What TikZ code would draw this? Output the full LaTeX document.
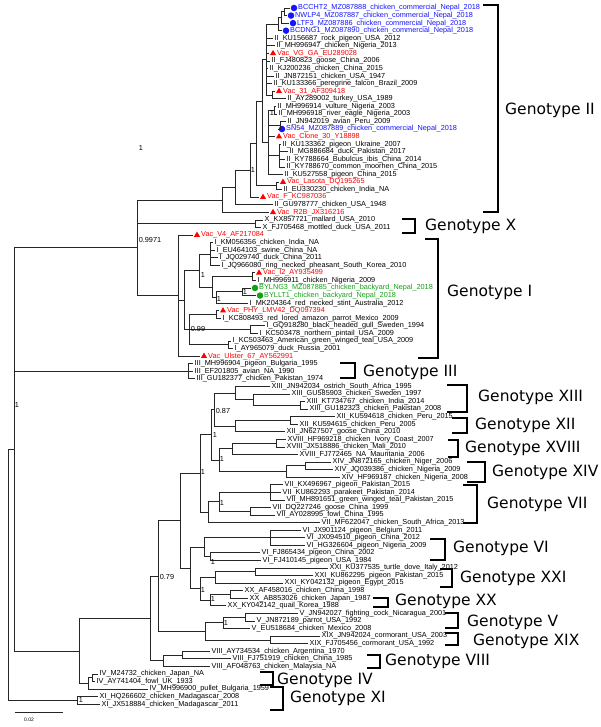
\documentclass[tikz,border=0pt]{standalone}
\usepackage{fontspec}
\setmainfont{Liberation Sans}
\newfontfamily\gtfont{DejaVu Sans}
\usetikzlibrary{shapes.geometric}
\definecolor{vred}{RGB}{255,0,0}
\definecolor{nblue}{RGB}{20,20,255}
\definecolor{bgreen}{RGB}{20,160,20}
\newcommand\TN[3]{\coordinate (#1) at (#2,{8+(#3-1)*7.567});}
\newcommand\LP[4]{\coordinate (#1) at (#2,{8+(#3-1)*7.567});\node[lab] (#1t) at ([xshift=1.5pt]#1) {#4};}
\newcommand\LV[4]{\coordinate (#1) at (#2,{8+(#3-1)*7.567});\node[tri] (#1m) at ([xshift=4pt]#1) {};\node[lab,text=vred] (#1t) at ([xshift=8pt]#1) {#4};}
\newcommand\LB[4]{\coordinate (#1) at (#2,{8+(#3-1)*7.567});\node[circ,fill=nblue] (#1m) at ([xshift=4pt]#1) {};\node[lab,text=nblue] (#1t) at ([xshift=8pt]#1) {#4};}
\newcommand\LG[4]{\coordinate (#1) at (#2,{8+(#3-1)*7.567});\node[circ,fill=bgreen] (#1m) at ([xshift=4pt]#1) {};\node[lab,text=bgreen] (#1t) at ([xshift=8pt]#1) {#4};}
\newcommand\TE[2]{\foreach \ch in {#2}{\draw[br] (#1) |- (\ch);}}
\begin{document}
\catcode`\_=12
\begin{tikzpicture}[x=1pt,y=-1pt,
  br/.style={line width=0.7pt,black!85},
  bk/.style={line width=1.4pt},
  lab/.style={anchor=west,inner sep=0pt,font=\fontsize{7.3}{8}\selectfont},
  sup/.style={inner sep=0pt,font=\fontsize{7.3}{8}\selectfont},
  gt/.style={anchor=west,inner sep=0pt,font=\gtfont\fontsize{15.5}{17}\selectfont},
  tri/.style={regular polygon,regular polygon sides=3,fill=vred,minimum size=7pt,inner sep=0pt},
  circ/.style={circle,minimum size=6.5pt,inner sep=0pt}]
\useasboundingbox (0,0) rectangle (600,727);
% leaves
\LB{L1}{290}{1}{BCCHT2_MZ087888_chicken_commercial_Nepal_2018}
\LB{L2}{287}{2}{NWLP4_MZ087887_chicken_commercial_Nepal_2018}
\LB{L3}{289}{3}{LTF3_MZ087886_chicken_commercial_Nepal_2018}
\LB{L4}{282}{4}{BCDNG1_MZ087890_chicken_commercial_Nepal_2018}
\LP{L5}{273}{5}{II_KU156687_rock_pigeon_USA_2012}
\LP{L6}{275}{6}{II_MH996947_chicken_Nigeria_2013}
\LV{L7}{269}{7}{Vac_VG_GA_EU289028}
\LP{L8}{270}{8}{II_FJ480823_goose_China_2006}
\LP{L9}{268}{9}{II_KJ200236_chicken_China_2015}
\LP{L10}{274}{10}{II_JN872151_chicken_USA_1947}
\LP{L11}{272}{11}{II_KU133366_peregrine_falcon_Brazil_2009}
\LV{L12}{275}{12}{Vac_31_AF309418}
\LP{L13}{286}{13}{II_AY289002_turkey_USA_1989}
\LP{L14}{276}{14}{II_MH996914_vulture_Nigeria_2003}
\LP{L15}{277}{15}{II_MH996918_river_eagle_Nigeria_2003}
\LP{L16}{286}{16}{II_JN942019_avian_Peru_2009}
\LB{L17}{278}{17}{SN54_MZ087889_chicken_commercial_Nepal_2018}
\LV{L18}{275}{18}{Vac_Clone_30_Y18898}
\LP{L19}{281}{19}{II_KU133362_pigeon_Ukraine_2007}
\LP{L20}{288}{20}{II_MG886684_duck_Pakistan_2017}
\LP{L21}{285}{21}{II_KY788664_Bubulcus_ibis_China_2014}
\LP{L22}{285}{22}{II_KY788670_common_moorhen_China_2015}
\LP{L23}{283}{23}{II_KU527558_pigeon_China_2015}
\LV{L24}{279}{24}{Vac_Lasota_DQ195265}
\LP{L25}{282}{25}{II_EU330230_chicken_India_NA}
\LV{L26}{259}{26}{Vac_F_KC987036}
\LP{L27}{273}{27}{II_GU978777_chicken_USA_1948}
\LV{L28}{269}{28}{Vac_R2B_JX316216}
\LP{L29}{263}{29}{X_KX857721_mallard_USA_2010}
\LP{L30}{261}{30}{X_FJ705468_mottled_duck_USA_2011}
\LV{L31}{193}{31}{Vac_V4_AF217084}
\LP{L32}{213}{32}{I_KM056356_chicken_India_NA}
\LP{L33}{215}{33}{I_EU464103_swine_China_NA}
\LP{L34}{218}{34}{I_JQ029740_duck_China_2011}
\LP{L35}{220}{35}{I_JQ966080_ring_necked_pheasant_South_Korea_2010}
\LV{L36}{255}{36}{Vac_I2_AY935499}
\LP{L37}{256}{37}{I_MH996911_chicken_Nigeria_2009}
\LG{L38}{251}{38}{BYLNG3_MZ087885_chicken_backyard_Nepal_2018}
\LG{L39}{256}{39}{BYLLT1_chicken_backyard_Nepal_2018}
\LP{L40}{248}{40}{I_MK204364_red_necked_stint_Australia_2012}
\LV{L41}{219}{41}{Vac_PHY_LMV42_DQ097394}
\LP{L42}{221}{42}{I_KC808493_red_lored_amazon_parrot_Mexico_2009}
\LP{L43}{265}{43}{I_GQ918280_black_headed_gull_Sweden_1994}
\LP{L44}{258}{44}{I_KC503478_northern_pintail_USA_2009}
\LP{L45}{231}{45}{I_KC503463_American_green_winged_teal_USA_2009}
\LP{L46}{233}{46}{I_AY965079_duck_Russia_2001}
\LV{L47}{200}{47}{Vac_Ulster_67_AY562991}
\LP{L48}{193}{48}{III_MH996904_pigeon_Bulgaria_1995}
\LP{L49}{193}{49}{III_EF201805_avian_NA_1990}
\LP{L50}{195}{50}{III_GU182377_chicken_Pakistan_1974}
\LP{L51}{270}{51}{XIII_JN942034_ostrich_South_Africa_1995}
\LP{L52}{290}{52}{XIII_GU585903_chicken_Sweden_1997}
\LP{L53}{305}{53}{XIII_KT734767_chicken_India_2014}
\LP{L54}{308}{54}{XIII_GU182323_chicken_Pakistan_2008}
\LP{L55}{335}{55}{XII_KU594618_chicken_Peru_2015}
\LP{L56}{298}{56}{XII_KU594615_chicken_Peru_2005}
\LP{L57}{285}{57}{XII_JN627507_goose_China_2010}
\LP{L58}{286}{58}{XVIII_HF969218_chicken_Ivory_Coast_2007}
\LP{L59}{285}{59}{XVIII_JX518886_chicken_Mali_2010}
\LP{L60}{298}{60}{XVIII_FJ772465_NA_Mauritania_2006}
\LP{L61}{331}{61}{XIV_JN872165_chicken_Niger_2006}
\LP{L62}{333}{62}{XIV_JQ039386_chicken_Nigeria_2009}
\LP{L63}{340}{63}{XIV_HF969187_chicken_Nigeria_2008}
\LP{L64}{283}{64}{VII_KX496967_pigeon_Pakistan_2015}
\LP{L65}{281}{65}{VII_KU862293_parakeet_Pakistan_2014}
\LP{L66}{285}{66}{VII_MH891651_green_winged_teal_Pakistan_2015}
\LP{L67}{271}{67}{VII_DQ227246_goose_China_1999}
\LP{L68}{275}{68}{VII_AY028995_fowl_China_1995}
\LP{L69}{320}{69}{VII_MF622047_chicken_South_Africa_2013}
\LP{L70}{301}{70}{VI_JX901124_pigeon_Belgium_2011}
\LP{L71}{305}{71}{VI_JX094510_pigeon_China_2012}
\LP{L72}{305}{72}{VI_HG326604_pigeon_Nigeria_2009}
\LP{L73}{260}{73}{VI_FJ865434_pigeon_China_2002}
\LP{L74}{261}{74}{VI_FJ410145_pigeon_USA_1984}
\LP{L75}{328}{75}{XXI_KU377535_turtle_dove_Italy_2012}
\LP{L76}{313}{76}{XXI_KU862295_pigeon_Pakistan_2015}
\LP{L77}{283}{77}{XXI_KY042132_pigeon_Egypt_2015}
\LP{L78}{243}{78}{XX_AF458016_chicken_China_1998}
\LP{L79}{248}{79}{XX_AB853026_chicken_Japan_1987}
\LP{L80}{226}{80}{XX_KY042142_quail_Korea_1988}
\LP{L81}{298}{81}{V_JN942027_fighting_cock_Nicaragua_2001}
\LP{L82}{255}{82}{V_JN872189_parrot_USA_1992}
\LP{L83}{250}{83}{V_EU518684_chicken_Mexico_2008}
\LP{L84}{320}{84}{XIX_JN942024_cormorant_USA_2003}
\LP{L85}{308}{85}{XIX_FJ705456_cormorant_USA_1992}
\LP{L86}{210}{86}{VIII_AY734534_chicken_Argentina_1970}
\LP{L87}{231}{87}{VIII_FJ751919_chicken_China_1985}
\LP{L88}{210}{88}{VIII_AF048763_chicken_Malaysia_NA}
\LP{L89}{98}{89}{IV_M24732_chicken_Japan_NA}
\LP{L90}{95}{90}{IV_AY741404_fowl_UK_1933}
\LP{L91}{148}{91}{IV_MH996900_pullet_Bulgaria_1959}
\LP{L92}{98}{92}{XI_HQ266602_chicken_Madagascar_2008}
\LP{L93}{100}{93}{XI_JX518884_chicken_Madagascar_2011}
% Genotype II / X
\TN{a1}{284}{1.5} \TE{a1}{L1,L2}
\TN{a2}{281}{2.25} \TE{a2}{a1,L3}
\TN{a3}{278}{3.125} \TE{a3}{a2,L4}
\TN{a4}{272}{12.5} \TE{a4}{L12,L13}
\TN{a5}{266}{7.8125} \TE{a5}{a3,L5,L6,L7,L8,L9,L10,L11,a4}
\TN{a6}{274}{14.5} \TE{a6}{L14,L15}
\TN{a7}{280}{16.5} \TE{a7}{L16,L17}
\TN{a8}{279}{20.5} \TE{a8}{L19,L20,L21,L22}
\TN{a9}{268}{18.75} \TE{a9}{a6,a7,L18,a8,L23}
\TN{a10}{262}{13.28} \TE{a10}{a5,a9}
\TN{a11}{276}{24.5} \TE{a11}{L24,L25}
\TN{a12}{256}{18.89} \TE{a12}{a10,a11}
\TN{a13}{250}{22.45} \TE{a13}{a12,L26}
\TN{a14}{235}{24.72} \TE{a14}{a13,L27}
\TN{a15}{222}{26.36} \TE{a15}{a14,L28}
\TN{x1}{255}{29.5} \TE{x1}{L29,L30}
% Genotype I
\TN{c1}{210}{33.5} \TE{c1}{L32,L33,L34,L35}
\TN{c2}{252}{36.5} \TE{c2}{L36,L37}
\TN{c3}{242}{38.5} \TE{c3}{L38,L39}
\TN{c4b}{216}{39.25} \TE{c4b}{c3,L40}
\TN{c4}{212}{37.875} \TE{c4}{c2,c4b}
\TN{c10}{199}{35.69} \TE{c10}{c1,c4}
\TN{c5}{216}{41.5} \TE{c5}{L41,L42}
\TN{c6}{250}{43.5} \TE{c6}{L43,L44}
\TN{c7}{228}{45.5} \TE{c7}{L45,L46}
\TN{c9}{189}{43.5} \TE{c9}{c5,c6,c7}
\TN{c11}{184}{39.6} \TE{c11}{c10,c9}
\TN{c12}{178}{39} \TE{c12}{L31,c11,L47}
\TN{qq}{137}{32.68} \TE{qq}{a15,x1,c12}
\TN{d1}{188}{49} \TE{d1}{L48,L49,L50}
% XIII XII XVIII XIV
\TN{e1}{300}{53.5} \TE{e1}{L53,L54}
\TN{e2}{253}{52.75} \TE{e2}{L52,e1}
\TN{e3}{235}{51.875} \TE{e3}{L51,e2}
\TN{e4}{290}{55.5} \TE{e4}{L55,L56}
\TN{e5}{235}{56.25} \TE{e5}{e4,L57}
\TN{e6}{214}{54.06} \TE{e6}{e3,e5}
\TN{f1}{276}{58.5} \TE{f1}{L58,L59}
\TN{f2}{232}{59.25} \TE{f2}{f1,L60}
\TN{f3}{305}{61.5} \TE{f3}{L61,L62}
\TN{f4}{286}{62.25} \TE{f4}{f3,L63}
\TN{f5}{219}{60.75} \TE{f5}{f2,f4}
\TN{f6}{211}{57.4} \TE{f6}{e6,f5}
% VII
\TN{g1}{270}{65} \TE{g1}{L64,L65,L66}
\TN{g2}{250}{67.5} \TE{g2}{L67,L68}
\TN{g3}{219}{66.25} \TE{g3}{g1,g2}
\TN{g4}{208}{67.625} \TE{g4}{g3,L69}
\TN{f7}{200}{62.5} \TE{f7}{f6,g4}
% VI XXI XX
\TN{h1}{270}{71} \TE{h1}{L70,L71,L72}
\TN{h2}{210}{73.5} \TE{h2}{L73,L74}
\TN{h3}{204}{72.25} \TE{h3}{h1,h2}
\TN{h4}{255}{75.5} \TE{h4}{L75,L76}
\TN{h5}{215}{76.25} \TE{h5}{h4,L77}
\TN{i1}{230}{78.5} \TE{i1}{L78,L79}
\TN{i2}{210}{79.25} \TE{i2}{i1,L80}
\TN{p1}{200}{77.75} \TE{p1}{h5,i2}
\TN{h6}{190}{75} \TE{h6}{h3,p1}
\TN{q1}{180}{68.75} \TE{q1}{f7,h6}
% V XIX
\TN{j1}{245}{81.5} \TE{j1}{L81,L82}
\TN{j2}{223}{82.25} \TE{j2}{j1,L83}
\TN{j3}{270}{84.5} \TE{j3}{L84,L85}
\TN{j4}{205}{83.375} \TE{j4}{j2,j3}
% VIII IV XI
\TN{k1}{182}{86.5} \TE{k1}{L86,L87}
\TN{k2}{163}{87.25} \TE{k2}{k1,L88}
\TN{m1}{92}{89.5} \TE{m1}{L89,L90}
\TN{m2}{88}{90.25} \TE{m2}{m1,L91}
\TN{xi}{77}{92.5} \TE{xi}{L92,L93}
% backbone
\TN{q2}{158}{76.06} \TE{q2}{q1,j4}
\TN{q3}{150}{81.66} \TE{q3}{q2,k2}
\TN{q4}{79}{85.955} \TE{q4}{q3,m2}
\TN{q5}{14}{59.32} \TE{q5}{qq,d1,q4}
\TN{rt}{8}{75.9} \TE{rt}{q5,xi}
% support values
\node[sup] (s1) at (272,113) {1};
\node[sup] (s2) at (253,170) {1};
\node[sup] (s3) at (141,148) {1};
\node[sup] (s4) at (150,240) {0.9971};
\node[sup] (s5) at (203,275) {1};
\node[sup] (s6) at (245,292) {1};
\node[sup] (s7) at (219,299) {1};
\node[sup] (s8) at (198,329) {0.99};
\node[sup] (s9) at (223,411) {0.87};
\node[sup] (s10) at (215,435) {1};
\node[sup] (s11) at (222,459) {1};
\node[sup] (s12) at (203,472) {1};
\node[sup] (s13) at (222,503) {1};
\node[sup] (s14) at (213,562) {1};
\node[sup] (s15) at (203,590) {1};
\node[sup] (s16) at (213,599) {1};
\node[sup] (s17) at (226,623) {1};
\node[sup] (s20) at (167,577) {0.79};
\node[sup] (s18) at (81,700) {1};
\node[sup] (s19) at (17,405) {1};
% genotype brackets
\draw[bk] (483,5) -- (498,5) -- (498,212) -- (483,212);
\node[gt] (g2) at (505,110) {Genotype II};
\draw[bk] (402,219) -- (415,219) -- (415,233) -- (402,233);
\node[gt] (gX) at (425,226) {Genotype X};
\draw[bk] (425,239) -- (438,239) -- (438,358) -- (418,358);
\node[gt] (gI) at (447,292) {Genotype I};
\draw[bk] (340,363) -- (355,363) -- (355,378) -- (340,378);
\node[gt] (gIII) at (363,372) {Genotype III};
\draw[bk] (447,385) -- (467,385) -- (467,412) -- (447,412);
\node[gt] (gXIII) at (478,397) {Genotype XIII};
\draw[bk] (452,418) -- (467,418) -- (467,433) -- (452,433);
\node[gt] (gXII) at (475,425) {Genotype XII};
\draw[bk] (448,440) -- (458,440) -- (458,457) -- (448,457);
\node[gt] (gXVIII) at (465,448) {Genotype XVIII};
\draw[bk] (467,462) -- (485,462) -- (485,482) -- (467,482);
\node[gt] (gXIV) at (492,472) {Genotype XIV};
\draw[bk] (463,485) -- (477,485) -- (477,523) -- (463,523);
\node[gt] (gVII) at (487,504) {Genotype VII};
\draw[bk] (430,539) -- (445,539) -- (445,560) -- (430,560);
\node[gt] (gVI) at (453,548) {Genotype VI};
\draw[bk] (440,569) -- (452,569) -- (452,587) -- (440,587);
\node[gt] (gXXI) at (460,578) {Genotype XXI};
\draw[bk] (373,598) -- (388,598) -- (388,607) -- (373,607);
\node[gt] (gXX) at (395,601) {Genotype XX};
\draw[bk] (445,613) -- (458,613) -- (458,628) -- (445,628);
\node[gt] (gV) at (467,622) {Genotype V};
\draw[bk] (445,633) -- (458,633) -- (458,645) -- (445,645);
\node[gt] (gXIX) at (473,641) {Genotype XIX};
\draw[bk] (367,655) -- (380,655) -- (380,668) -- (367,668);
\node[gt] (gVIII) at (385,661) {Genotype VIII};
\draw[bk] (260,672) -- (273,672) -- (273,685) -- (260,685);
\node[gt] (gIV) at (277,680) {Genotype IV};
\draw[bk] (270,687) -- (283,687) -- (283,710) -- (270,710);
\node[gt] (gXI) at (290,698) {Genotype XI};
% scale bar
\draw[br] (15,712) -- (63,712);
\node[sup,font=\fontsize{5}{5}\selectfont] (sb) at (29,720) {0.02};
\end{tikzpicture}
\end{document}
